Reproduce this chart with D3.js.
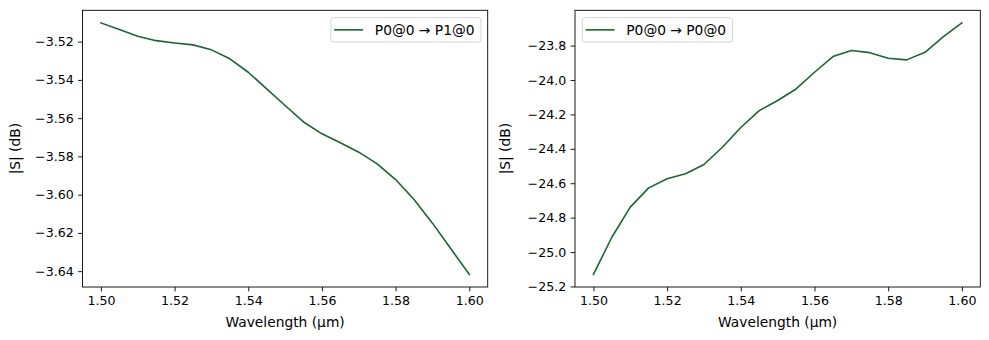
<!DOCTYPE html>
<html>
<head>
<meta charset="utf-8">
<script src="https://cdn.jsdelivr.net/npm/d3@7"></script>
<style>
  html, body { margin: 0; padding: 0; background: #fff; }
  svg { display: block; font-family: "DejaVu Sans", sans-serif; }
</style>
</head>
<body>
<svg id="chart" width="989" height="340"></svg>
<script>
// ---- data ----
const wavelengths = [1.500, 1.505, 1.510, 1.515, 1.520, 1.525, 1.530, 1.535, 1.540, 1.545,
                     1.550, 1.555, 1.560, 1.565, 1.570, 1.575, 1.580, 1.585, 1.590, 1.595, 1.600];
const s21 = [-3.5102, -3.5137, -3.5172, -3.5195, -3.5207, -3.5217, -3.5243, -3.5290, -3.5360, -3.5447,
             -3.5534, -3.5620, -3.5682, -3.5729, -3.5778, -3.5839, -3.5921, -3.6025, -3.6149, -3.6283, -3.6417];
const s11 = [-25.130, -24.914, -24.739, -24.627, -24.574, -24.545, -24.491, -24.391, -24.276, -24.178,
             -24.119, -24.052, -23.955, -23.864, -23.829, -23.841, -23.874, -23.883, -23.839, -23.748, -23.668];
const xTicks = [1.50, 1.52, 1.54, 1.56, 1.58, 1.60];
const yTicksLeft = [-3.64, -3.62, -3.60, -3.58, -3.56, -3.54, -3.52];
const yTicksRight = [-25.2, -25.0, -24.8, -24.6, -24.4, -24.2, -24.0, -23.8];
const legendLeft = "P0@0 \u2192 P1@0";
const legendRight = "P0@0 \u2192 P0@0";
const xLabel = "Wavelength (\u00b5m)";
const yLabel = "|S| (dB)";
const lineColor = "#1a6535";

const svg = d3.select("#chart");
const TFS = 12.6;   // tick labels
const LFS = 13.8;   // axis labels, legend

function pad(ext) {
  const s = ext[1] - ext[0];
  return [ext[0] - 0.05 * s, ext[1] + 0.05 * s];
}
function fmt(d, dec) {
  return d.toFixed(dec).replace("-", "\u2212");
}

function panel(opts) {
  const { x0, x1, y0, y1, ys, yTicks, dec, legend, legendPos, ylabX } = opts;
  const x = d3.scaleLinear().domain(pad(d3.extent(wavelengths))).range([x0, x1]);
  const y = d3.scaleLinear().domain(pad(d3.extent(ys))).range([y1, y0]);
  const g = svg.append("g");

  const line = d3.line().x((d, i) => x(wavelengths[i])).y(d => y(d));
  g.append("path").datum(ys).attr("d", line)
    .attr("fill", "none").attr("stroke", lineColor).attr("stroke-width", 1.6)
    .attr("stroke-linejoin", "round").attr("stroke-linecap", "square");

  // frame
  g.append("rect").attr("x", x0).attr("y", y0).attr("width", x1 - x0).attr("height", y1 - y0)
    .attr("fill", "none").attr("stroke", "#000").attr("stroke-width", 0.9);

  const xa = d3.axisBottom(x).tickValues(xTicks).tickFormat(d => d.toFixed(2))
    .tickSize(4.4).tickPadding(4.4);
  const xg = g.append("g").attr("transform", `translate(0,${y1})`).call(xa);
  const ya = d3.axisLeft(y).tickValues(yTicks).tickFormat(d => fmt(d, dec))
    .tickSize(4.4).tickPadding(4.4);
  const yg = g.append("g").attr("transform", `translate(${x0},0)`).call(ya);
  [xg, yg].forEach(a => {
    a.select(".domain").remove();
    a.selectAll("line").attr("stroke", "#000").attr("stroke-width", 0.9);
    a.selectAll("text").attr("fill", "#000").style("font-size", TFS + "px")
      .style("font-family", "DejaVu Sans");
  });

  g.append("text").attr("x", (x0 + x1) / 2).attr("y", 326.5)
    .attr("text-anchor", "middle").style("font-size", LFS + "px").text(xLabel);
  g.append("text").attr("transform", `translate(${ylabX},${(y0 + y1) / 2}) rotate(-90)`)
    .attr("text-anchor", "middle").style("font-size", LFS + "px").text(yLabel);

  // legend
  const lg = g.append("g");
  const rect = lg.append("rect");
  const t = lg.append("text").style("font-size", LFS + "px").text(legend);
  const tw = t.node().getComputedTextLength();
  const bw = 44 + tw + 6.5;
  const bh = 24.3;
  const bx = legendPos === "right" ? x1 - 6.7 - bw : x0 + 7.3;
  const by = y0 + 7.4;
  rect.attr("x", bx).attr("y", by).attr("width", bw).attr("height", bh).attr("rx", 2.5)
    .attr("fill", "#fff").attr("fill-opacity", 0.8).attr("stroke", "#d0d0d0").attr("stroke-width", 0.9);
  lg.append("line").attr("x1", bx + 3.3).attr("x2", bx + 32.3).attr("y1", by + bh / 2).attr("y2", by + bh / 2)
    .attr("stroke", lineColor).attr("stroke-width", 1.6);
  t.attr("x", bx + 44).attr("y", by + bh / 2 + 4.9);
}

panel({ x0: 82.5, x1: 487.7, y0: 10.3, y1: 287, ys: s21, yTicks: yTicksLeft, dec: 2,
        legend: legendLeft, legendPos: "right", ylabX: 19.5 });
panel({ x0: 575, x1: 980.3, y0: 10.3, y1: 287, ys: s11, yTicks: yTicksRight, dec: 1,
        legend: legendRight, legendPos: "left", ylabX: 509.5 });
</script>
</body>
</html>
